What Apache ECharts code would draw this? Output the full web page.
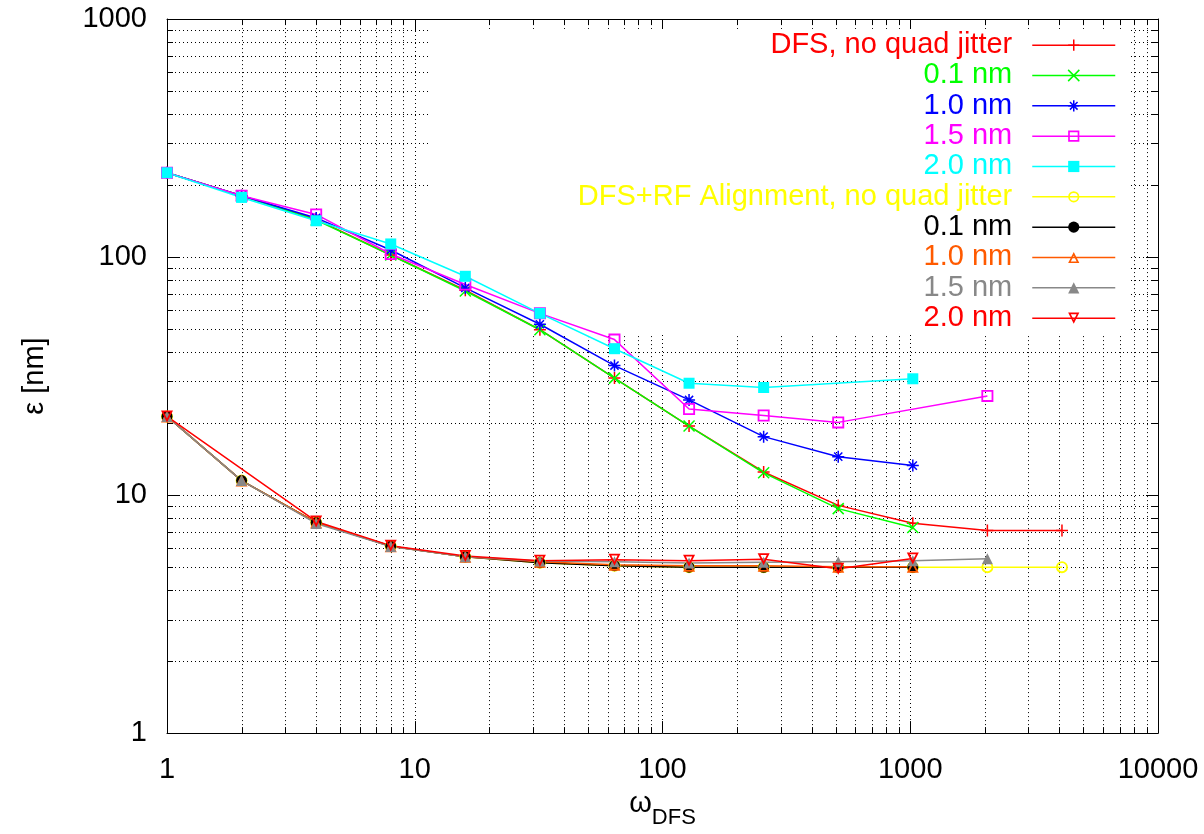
<!DOCTYPE html>
<html>
<head>
<meta charset="utf-8">
<script src="https://cdn.jsdelivr.net/npm/echarts@6/dist/echarts.min.js"></script>
<style>html,body{margin:0;padding:0;background:#fff}#c{width:1204px;height:834px}</style>
</head>
<body>
<div id="c"></div>
<script>
// ---- data ----
const omega = [1, 2, 4, 8, 16, 32, 64, 128, 256, 512, 1024, 2048, 4096];
const dfsNoJitter = [226, 181, 144, 102, 72.5, 49.5, 31, 19.5, 12.5, 9.05, 7.62, 7.1, 7.1];
const dfs01 = [226, 181, 143, 102, 72, 49.5, 31, 19.5, 12.4, 8.77, 7.31, null, null];
const dfs10 = [226, 181, 146, 107, 74.2, 52.2, 35, 25.1, 17.6, 14.5, 13.3, null, null];
const dfs15 = [226, 181, 151, 103, 76.7, 58, 45, 23.0, 21.6, 20.2, null, 26.1, null];
const dfs20 = [226, 178, 142, 113.5, 83, 58, 41.2, 29.5, 28.3, null, 30.8, null, null];
const rfNoJitter = [21.4, 11.5, 7.67, 6.1, 5.5, 5.2, 5.05, 4.98, 4.98, 4.98, 4.98, 4.98, 4.98];
const rf01 = [21.4, 11.5, 7.67, 6.1, 5.5, 5.2, 5.05, 4.98, 4.97, 4.97, 4.97, null, null];
const rf10 = [21.4, 11.5, 7.67, 6.1, 5.5, 5.25, 5.1, 5.05, 5.05, 5.0, 5.0, null, null];
const rf15 = [21.4, 11.5, 7.6, 6.08, 5.5, 5.28, 5.25, 5.18, 5.22, 5.25, 5.3, 5.4, null];
const rf20 = [21.4, null, 7.75, 6.13, 5.55, 5.3, 5.35, 5.3, 5.38, 4.9, 5.42, null, null];

const seriesNames = ['DFS, no quad jitter', '0.1 nm', '1.0 nm', '1.5 nm', '2.0 nm',
  'DFS+RF Alignment, no quad jitter', '0.1 nm#2', '1.0 nm#2', '1.5 nm#2', '2.0 nm#2'];
const seriesColors = ['#ff0000', '#00ff00', '#0000ff', '#ff00ff', '#00ffff',
  '#ffff00', '#000000', '#ff5a00', '#888888', '#ff0000'];

const xMajorTicks = [1, 10, 100, 1000, 10000];
const yMajorTicks = [1, 10, 100, 1000];
const xMinorTicks = [2,3,4,5,6,7,8,9, 20,30,40,50,60,70,80,90, 200,300,400,500,600,700,800,900, 2000,3000,4000,5000,6000,7000,8000,9000];
const yMinorTicks = [2,3,4,5,6,7,8,9, 20,30,40,50,60,70,80,90, 200,300,400,500,600,700,800,900];

// ---- symbols ----
const PLUS = 'path://M5,0L5,10M0,5L10,5';
const CROSS = 'path://M0,0L10,10M0,10L10,0';
const STAR = 'path://M5,0L5,10M0,5L10,5M1.6,1.6L8.4,8.4M1.6,8.4L8.4,1.6';
const OPEN_SQUARE = 'path://M0,0H10V10H0ZM1.5,1.5V8.5H8.5V1.5Z';
const OPEN_CIRCLE = 'path://M0,5A5,5 0 1 1 10,5A5,5 0 1 1 0,5ZM1.5,5A3.5,3.5 0 1 0 8.5,5A3.5,3.5 0 1 0 1.5,5Z';
const OPEN_TRI = 'path://M5,0L10,10L0,10ZM5,3.35L2.4,8.5L7.6,8.5Z';
const OPEN_TRI_DOWN = 'path://M0,0L10,0L5,10ZM2.4,1.5L5,6.65L7.6,1.5Z';
const seriesSymbols = [PLUS, CROSS, STAR, OPEN_SQUARE, 'rect', OPEN_CIRCLE, 'circle', OPEN_TRI, 'triangle', OPEN_TRI_DOWN];
const symbolSizes = [12, 11, 12, 12, 11, 12, 11, 12, 11, 12];
const strokeWidths = [1.5, 1.5, 1.5, 0, 0, 0, 0, 0, 0, 0];

const allValues = [dfsNoJitter, dfs01, dfs10, dfs15, dfs20, rfNoJitter, rf01, rf10, rf15, rf20];

const X_MIN = 1, X_MAX = 10000, Y_MIN = 1, Y_MAX = 1000;
const FONT = 'Liberation Sans';

function pairs(vals) {
  const out = [];
  vals.forEach((v, i) => { if (v != null) out.push([omega[i], v]); });
  return out;
}

const lineSeries = allValues.map((vals, i) => ({
  name: seriesNames[i],
  type: 'line',
  data: pairs(vals),
  xAxisIndex: 0, yAxisIndex: 0,
  symbol: seriesSymbols[i],
  symbolSize: symbolSizes[i],
  showAllSymbol: true,
  z: 2,
  lineStyle: { color: seriesColors[i], width: 1.5 },
  itemStyle: { color: seriesColors[i], borderColor: seriesColors[i], borderWidth: strokeWidths[i] },
  emphasis: { disabled: true }
}));

const gridData = xMinorTicks.map(v => [v, Y_MIN, 0]).concat(yMinorTicks.map(v => [X_MIN, v, 1]));

const gridSeries = {
  type: 'custom',
  z: 1,
  silent: true,
  clip: false,
  xAxisIndex: 0, yAxisIndex: 0,
  data: gridData,
  encode: { x: 0, y: 1 },
  renderItem: function (params, api) {
    const flag = api.value(2);
    const dot = { stroke: '#000', lineWidth: 1, lineDash: [1, 3] };
    const solid = { stroke: '#000', lineWidth: 1 };
    if (flag === 0) {
      const v = api.value(0);
      const a = api.coord([v, Y_MIN]);
      const b = api.coord([v, Y_MAX]);
      const x = Math.round(a[0]) + 0.5;
      return { type: 'group', children: [
        { type: 'line', shape: { x1: x, y1: a[1], x2: x, y2: b[1] }, style: dot },
        { type: 'line', shape: { x1: x, y1: a[1], x2: x, y2: a[1] - 6 }, style: solid },
        { type: 'line', shape: { x1: x, y1: b[1], x2: x, y2: b[1] + 6 }, style: solid }
      ]};
    } else {
      const v = api.value(1);
      const a = api.coord([X_MIN, v]);
      const b = api.coord([X_MAX, v]);
      const y = Math.round(a[1]) + 0.5;
      return { type: 'group', children: [
        { type: 'line', shape: { x1: a[0], y1: y, x2: b[0], y2: y }, style: dot },
        { type: 'line', shape: { x1: a[0], y1: y, x2: a[0] + 6, y2: y }, style: solid },
        { type: 'line', shape: { x1: b[0], y1: y, x2: b[0] - 6, y2: y }, style: solid }
      ]};
    }
  }
};

const axisCommon = {
  type: 'log', logBase: 10,
  axisLine: { show: true, onZero: false, lineStyle: { color: '#000', width: 1 } },
  axisTick: { show: true, inside: true, length: 12, lineStyle: { color: '#000', width: 1 } }
};

const option = {
  animation: false,
  backgroundColor: '#fff',
  textStyle: { fontFamily: FONT },
  grid: { left: 167, top: 19, width: 991, height: 720, containLabel: false },
  xAxis: [
    Object.assign({}, axisCommon, {
      position: 'bottom', min: X_MIN, max: X_MAX, splitNumber: 4,
      axisLabel: { margin: 22, fontSize: 29, color: '#000', fontFamily: FONT,
        formatter: v => String(Math.round(v)) },
      splitLine: { show: true, lineStyle: { color: '#000', width: 1, type: [1, 3] } },
      name: '{w|ω}{s|DFS}',
      nameLocation: 'middle',
      nameGap: 54,
      nameTextStyle: { color: '#000', fontFamily: FONT, rich: {
        w: { fontSize: 29, fontFamily: FONT, color: '#000', verticalAlign: 'top' },
        s: { fontSize: 22, fontFamily: FONT, color: '#000', verticalAlign: 'bottom', padding: [18, 0, 0, 0] }
      } }
    }),
    Object.assign({}, axisCommon, {
      position: 'top', min: X_MIN, max: X_MAX, splitNumber: 4,
      axisLabel: { show: false }, splitLine: { show: false }
    })
  ],
  yAxis: [
    Object.assign({}, axisCommon, {
      position: 'left', min: Y_MIN, max: Y_MAX, splitNumber: 3,
      axisLabel: { margin: 20, fontSize: 29, color: '#000', fontFamily: FONT,
        formatter: v => String(Math.round(v)) },
      splitLine: { show: true, lineStyle: { color: '#000', width: 1, type: [1, 3] } },
      name: 'ε [nm]',
      nameLocation: 'middle',
      nameGap: 118,
      nameTextStyle: { fontSize: 29, color: '#000', fontFamily: FONT }
    }),
    Object.assign({}, axisCommon, {
      position: 'right', min: Y_MIN, max: Y_MAX, splitNumber: 3,
      axisLabel: { show: false }, splitLine: { show: false }
    })
  ],
  legend: {
    orient: 'vertical',
    align: 'right',
    right: 74,
    top: 29,
    itemWidth: 83,
    itemHeight: 14,
    itemGap: 0,
    padding: [1, 14, 1, 149],
    backgroundColor: '#fff',
    z: 1.5,
    selectedMode: false,
    formatter: n => n.replace(/#\d+$/, ''),
    textStyle: { fontFamily: FONT, fontSize: 29, lineHeight: 30.33, padding: [0, 15, 0, 0] },
    data: seriesNames.map((n, i) => ({
      name: n,
      textStyle: { color: seriesColors[i], fontFamily: FONT, fontSize: 29, lineHeight: 30.33, padding: [0, 15, 0, 0] },
      itemStyle: { color: seriesColors[i], borderColor: seriesColors[i], borderWidth: strokeWidths[i] },
      lineStyle: { color: seriesColors[i], width: 1.5 }
    }))
  },
  series: [gridSeries].concat(lineSeries)
};

const chart = echarts.init(document.getElementById('c'), null, { renderer: 'canvas' });
chart.setOption(option);
</script>
</body>
</html>
